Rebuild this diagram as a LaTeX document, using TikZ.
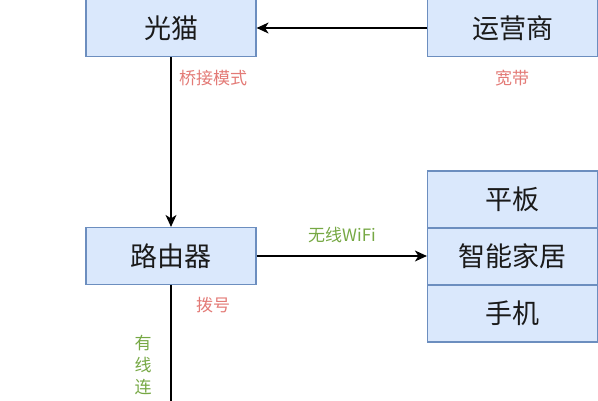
\documentclass[tikz,border=0pt]{standalone}
\usepackage{fontspec}
\setmainfont{Noto Sans CJK SC}
\usetikzlibrary{arrows.meta}
\definecolor{boxfill}{HTML}{DAE8FC}
\definecolor{boxline}{HTML}{6C8EBF}
\definecolor{lblred}{HTML}{E37A76}
\definecolor{lblgreen}{HTML}{76A844}
\definecolor{txt}{HTML}{1A1A1A}
\tikzset{
  box/.style={draw=boxline, fill=boxfill, line width=1.2pt, minimum width=170pt, minimum height=57pt, inner sep=0pt, text=txt, font=\fontsize{27}{30}\selectfont},
  lbl/.style={inner sep=0pt, font=\fontsize{17}{20}\selectfont},
  conn/.style={draw=black, line width=1.3pt, -{Stealth[length=12pt,width=11pt,inset=3.5pt]}},
  plain/.style={draw=black, line width=1.3pt}
}
\begin{document}
\begin{tikzpicture}[x=1pt,y=-1pt]
\useasboundingbox (0,0) rectangle (598,400);
\node[box] (modem) at (171,28) {光猫};
\node[box] (isp) at (512.5,28) {运营商};
\node[box] (router) at (171,256) {路由器};
\node[box] (tablet) at (512.5,199.5) {平板};
\node[box] (smart) at (512.5,256.5) {智能家居};
\node[box] (phone) at (512.5,313.5) {手机};
\coordinate (down) at (171,402);
\draw[conn] (isp.west) -- (modem.east);
\draw[conn] (modem.south) -- (router.north);
\draw[conn] (router.east) -- (router.east -| smart.west);
\draw[plain] (router.south) -- (down);
\node[lbl, text=lblred] (lbridge) at (213,78) {桥接模式};
\node[lbl, text=lblred] (lbroad) at (512,78) {宽带};
\node[lbl, text=lblgreen] (lwifi) at (342,235) {无线WiFi};
\node[lbl, text=lblred] (ldial) at (213,305) {拨号};
\node[lbl, text=lblgreen, align=center, font=\fontsize{17}{22}\selectfont] (lwire) at (143,365) {有\\线\\连};
\end{tikzpicture}
\end{document}
